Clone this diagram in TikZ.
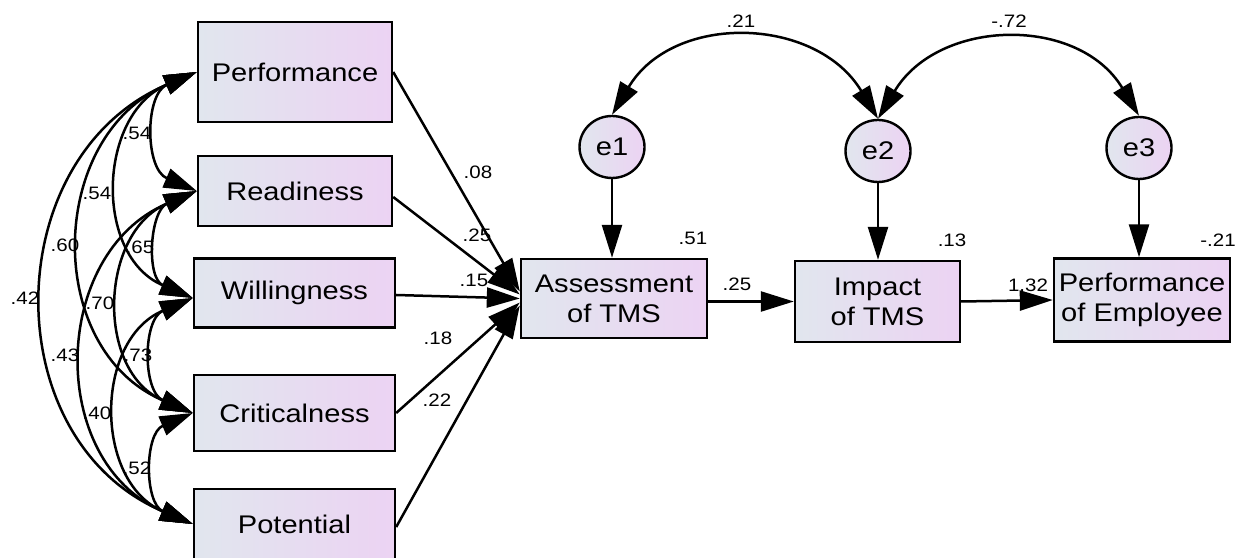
\documentclass[tikz,border=0pt]{standalone}
\usepackage{fontspec}
\setmainfont[FakeStretch=1.14]{Liberation Sans}
\usetikzlibrary{arrows.meta,shapes.geometric,calc}
\definecolor{cL}{RGB}{225,230,238}
\definecolor{cR}{RGB}{236,211,243}
\begin{document}
\begin{tikzpicture}[x=1pt,y=1pt,
  box/.style={draw, line width=2.4pt, left color=cL, right color=cR, inner sep=0pt, align=center, font=\fontsize{25.5}{30}\selectfont},
  errc/.style={ellipse, draw, line width=2.4pt, left color=cL, right color=cR, inner sep=0pt, minimum width=65pt, minimum height=62pt, font=\fontsize{25.5}{30}\selectfont},
  lab/.style={font=\fontsize{18}{21}\selectfont, inner sep=0pt},
  arr/.style={line width=2.5pt, -{Triangle[length=33pt,width=20pt]}},
  cov/.style={line width=2.5pt, {Triangle[length=33pt,width=20pt]}-{Triangle[length=33pt,width=20pt]}, out=203, in=157, looseness=1.22},
  covtop/.style={line width=2.5pt, {Triangle[length=33pt,width=20pt]}-{Triangle[length=33pt,width=20pt]}, out=59, in=121, looseness=1.15}
]
\useasboundingbox (0,0) rectangle (1246,557);
% observed boxes
\node[box, minimum width=194pt, minimum height=100pt] (Perf) at (295,485) {Performance};
\node[box, minimum width=194pt, minimum height=70pt] (Read) at (295,366) {Readiness};
\node[box, minimum width=201pt, minimum height=69pt] (Will) at (294.5,264) {Willingness};
\node[box, minimum width=201pt, minimum height=76pt] (Crit) at (294.5,144) {Criticalness};
\node[box, minimum width=201pt, minimum height=70pt] (Pot) at (294.5,33) {Potential};
\node[box, minimum width=186pt, minimum height=79pt] (Assess) at (614,258.5) {Assessment\\of TMS};
\node[box, minimum width=165pt, minimum height=81pt] (Impact) at (877.5,255.5) {Impact\\of TMS};
\node[box, minimum width=176pt, minimum height=83pt] (PerfEmp) at (1142,257) {Performance\\of Employee};
% error terms
\node[errc] (e1) at (612,410) {e1};
\node[errc] (e2) at (878,406) {e2};
\node[errc] (e3) at (1139,409) {e3};
% covariance end points on the left boxes
\coordinate (pW) at (Perf.west);
\coordinate (rW) at (Read.west);
\coordinate (wW) at ($(Will.west)+(0,-5)$);
\coordinate (cW) at (Crit.west);
\coordinate (oW) at (Pot.west);
\draw[cov] (pW) to (rW);
\draw[cov] (pW) to (wW);
\draw[cov] (pW) to (cW);
\draw[cov] (pW) to (oW);
\draw[cov] (rW) to (wW);
\draw[cov] (rW) to (cW);
\draw[cov] (rW) to (oW);
\draw[cov] (wW) to (cW);
\draw[cov] (wW) to (oW);
\draw[cov] (cW) to (oW);
% regression paths
\draw[arr] (Perf.east) -- ($(Assess.west)+(0,7)$);
\draw[arr] ($(Read.east)+(0,-6)$) -- ($(Assess.west)+(0,4)$);
\draw[arr] ($(Will.east)+(0,-2)$) -- ($(Assess.west)+(0,0)$);
\draw[arr] (Crit.east) -- ($(Assess.west)+(0,-4)$);
\draw[arr] ($(Pot.east)+(0,-3)$) -- ($(Assess.west)+(0,-7)$);
\draw[arr] (Assess.east |- Impact.west) -- (Impact.west);
\draw[arr] (Impact.east) -- (PerfEmp.west);
\draw[arr] (e1.south) -- (e1.south |- Assess.north);
\draw[arr] (e2.south) -- (e2.south |- Impact.north);
\draw[arr] (e3.south) -- (e3.south |- PerfEmp.north);
\draw[covtop] (e1.north) to (e2.north);
\draw[covtop] (e2.north) to (e3.north);
% labels
\node[lab] (l1) at (478,385) {.08};
\node[lab] (l2) at (477,322) {.25};
\node[lab] (l3) at (474,277) {.15};
\node[lab] (l4) at (438,219) {.18};
\node[lab] (l5) at (437,157) {.22};
\node[lab] (l6) at (693,319) {.51};
\node[lab] (l7) at (952,317) {.13};
\node[lab] (l8) at (1218,317) {-.21};
\node[lab] (l9) at (737,273) {.25};
\node[lab] (l10) at (1028,272) {1.32};
\node[lab] (l11) at (741,536) {.21};
\node[lab] (l12) at (1009,536) {-.72};
\node[lab] (c1) at (137,424) {.54};
\node[lab] (c2) at (97,364) {.54};
\node[lab] (c3) at (65,312) {.60};
\node[lab] (c4) at (25,259) {.42};
\node[lab] (c5) at (140,310) {.65};
\node[lab] (c6) at (100,254) {.70};
\node[lab] (c7) at (65,202) {.43};
\node[lab] (c8) at (138,202) {.73};
\node[lab] (c9) at (97,144) {.40};
\node[lab] (c10) at (137,89) {.52};
\end{tikzpicture}
\end{document}
